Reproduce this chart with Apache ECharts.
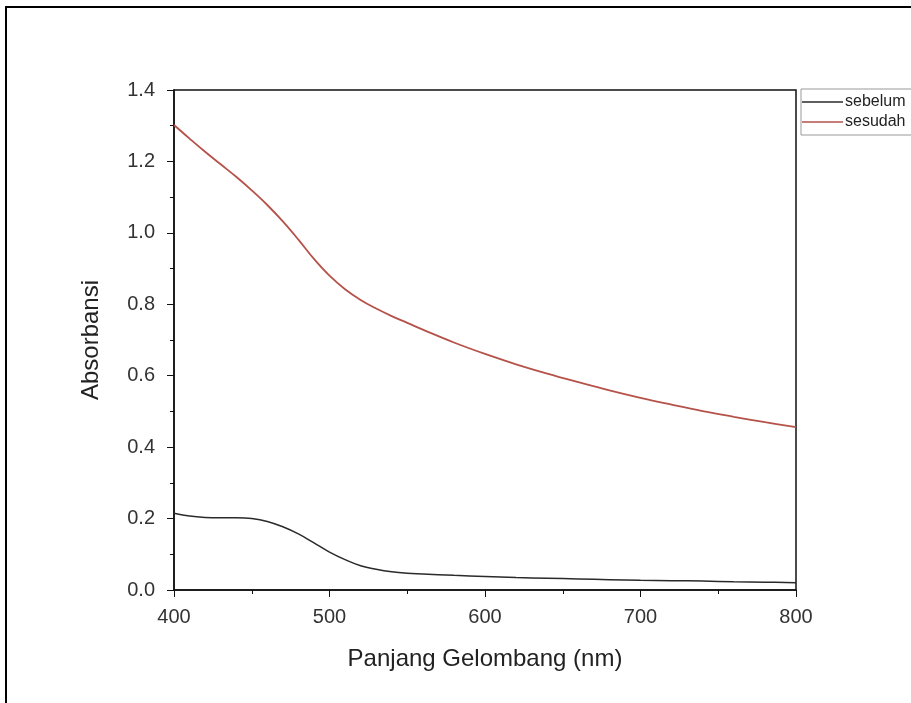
<!DOCTYPE html>
<html><head><meta charset="utf-8">
<script src="https://cdn.jsdelivr.net/npm/echarts@6/dist/echarts.min.js"></script>
<style>html,body{margin:0;padding:0;background:#fff}#c{width:911px;height:703px}</style>
</head><body><div id="c"></div>
<script>
const wavelengths = [400,410,420,430,440,450,460,470,480,490,500,510,520,530,540,550,560,580,600,620,640,660,680,700,720,740,760,780,800];
const sebelum = [0.215,0.207,0.203,0.202,0.202,0.200,0.192,0.177,0.157,0.132,0.106,0.085,0.068,0.058,0.051,0.047,0.045,0.041,0.038,0.035,0.033,0.031,0.029,0.027,0.026,0.025,0.023,0.022,0.020];
const sesudah = [1.302,1.264,1.227,1.192,1.157,1.119,1.078,1.032,0.981,0.927,0.880,0.842,0.812,0.788,0.767,0.748,0.729,0.693,0.661,0.632,0.606,0.582,0.559,0.538,0.519,0.501,0.485,0.470,0.456];
const seriesNames = ['sebelum','sesudah'];
const xTitle = 'Panjang Gelombang (nm)';
const yTitle = 'Absorbansi';

const chart = echarts.init(document.getElementById('c'), null, {renderer:'canvas'});
const font = 'Liberation Sans, Arial, sans-serif';
chart.setOption({
  animation:false,
  backgroundColor:'#fff',
  graphic:[{type:'rect',shape:{x:6,y:7,width:1000,height:1000},style:{fill:'none',stroke:'#000',lineWidth:2}}],
  grid:{left:174,right:115,top:90,bottom:113,show:true,borderColor:'#111',borderWidth:1.5},
  legend:{
    orient:'vertical',left:801,top:89,padding:[5,30,5,1],itemGap:4,
    backgroundColor:'#fff',borderColor:'#999',borderWidth:1,
    itemWidth:41,itemHeight:1.5,icon:'rect',
    textStyle:{fontFamily:font,fontSize:16,color:'#222',padding:[0,0,0,-3]},
    data:seriesNames
  },
  xAxis:{type:'value',min:400,max:800,interval:100,
    name:xTitle,nameLocation:'middle',nameGap:57,
    nameTextStyle:{fontFamily:font,fontSize:24,color:'#222'},
    axisLine:{show:true,onZero:false,lineStyle:{color:'#111',width:1.5}},
    axisTick:{show:true,inside:false,length:7,lineStyle:{color:'#111'}},
    minorTick:{show:true,splitNumber:2,length:4,lineStyle:{color:'#111'}},
    axisLabel:{fontFamily:font,fontSize:20,color:'#333',margin:17},
    splitLine:{show:false}},
  yAxis:{type:'value',min:0,max:1.4,interval:0.2,
    name:yTitle,nameLocation:'middle',nameGap:71,
    nameTextStyle:{fontFamily:font,fontSize:24,color:'#222'},
    axisLine:{show:true,onZero:false,lineStyle:{color:'#111',width:1.5}},
    axisTick:{show:true,inside:false,length:7,lineStyle:{color:'#111'}},
    minorTick:{show:true,splitNumber:2,length:4,lineStyle:{color:'#111'}},
    axisLabel:{fontFamily:font,fontSize:20,color:'#333',margin:19,formatter:v=>v.toFixed(1)},
    splitLine:{show:false}},
  series:[
    {name:seriesNames[0],type:'line',smooth:0.4,showSymbol:false,
     data:wavelengths.map((w,i)=>[w,sebelum[i]]),
     lineStyle:{color:'#2a2a2a',width:1.5},itemStyle:{color:'#2a2a2a'}},
    {name:seriesNames[1],type:'line',smooth:0.4,showSymbol:false,
     data:wavelengths.map((w,i)=>[w,sesudah[i]]),
     lineStyle:{color:'#b5524a',width:1.8},itemStyle:{color:'#b5524a'}}
  ]
});
</script></body></html>
